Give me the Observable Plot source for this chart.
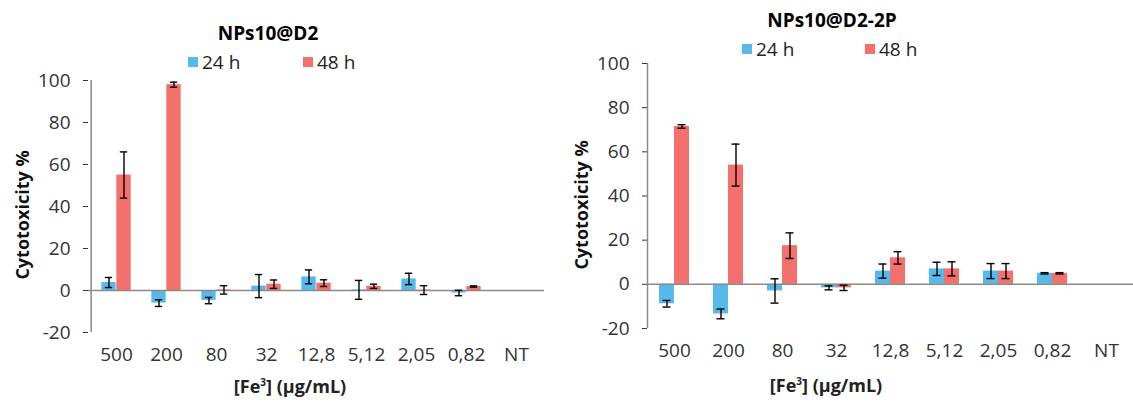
<!DOCTYPE html>
<html>
<head>
<meta charset="utf-8">
<script src="https://cdn.jsdelivr.net/npm/d3@7"></script>
<script src="https://cdn.jsdelivr.net/npm/@observablehq/plot@0.6"></script>
<style>
  html, body { margin: 0; padding: 0; background: #fff; }
  #root { position: relative; width: 1133px; height: 403px; overflow: hidden; font-family: "Open Sans", sans-serif; }
  .panel { position: absolute; top: 0; }
  .title { position: absolute; font-weight: bold; font-size: 19px; color: #000; white-space: nowrap; transform: translate(-50%, -50%); }
  .legend { position: absolute; font-size: 19px; color: #222; white-space: nowrap; transform: translateY(-50%); display: flex; align-items: center; }
  .legend .sw { display: inline-block; width: 10px; height: 10px; margin-right: 4px; }
  .ylab { position: absolute; font-weight: bold; font-size: 18px; color: #111; white-space: nowrap; transform: translate(-50%, -50%) rotate(-90deg); }
  .xlab { position: absolute; font-weight: bold; font-size: 18px; color: #222; white-space: nowrap; transform: translate(-50%, -50%); }
</style>
</head>
<body>
<div id="root"></div>
<script>
// ---- data ----
const categories = ["500", "200", "80", "32", "12,8", "5,12", "2,05", "0,82", "NT"];
const seriesNames = ["24 h", "48 h"];
const colors = ["#55b9e9", "#f4706c"];
const yTicks = [-20, 0, 20, 40, 60, 80, 100];

// NPs10@D2
const d2_24 = [3.8, -6.0, -4.8, 2.1, 6.5, 0.3, 5.5, -1.2];
const d2_24err = [2.4, 1.6, 1.5, 5.5, 3.3, 4.5, 2.7, 1.3];
const d2_48 = [55, 98, 0.3, 3.0, 3.5, 2.0, 0.2, 1.9];
const d2_48err = [11, 1.2, 2.0, 2.0, 1.6, 1.0, 2.1, 0.3];

// NPs10@D2-2P
const p2_24 = [-8.8, -13.4, -3.0, -1.6, 6.0, 7.0, 6.0, 5.0];
const p2_24err = [1.5, 2.2, 5.5, 0.9, 3.2, 3.0, 3.4, 0.3];
const p2_48 = [71.5, 54, 17.5, -1.6, 12, 7.0, 6.0, 5.0];
const p2_48err = [0.8, 9.5, 5.8, 1.2, 2.8, 3.2, 3.4, 0.3];

function rows(vals, errs) {
  return vals.map((v, i) => ({cat: categories[i], v, lo: v - errs[i], hi: v + errs[i]}));
}

function makeChart(cfg) {
  const {width, height, ml, mr, mt, mb, s24, s48} = cfg;
  const bw = (width - ml - mr) / categories.length;
  const barW = 15;
  const half = bw / 2;
  const cap = 4;
  const axisColor = "#8a8a8a";
  const errMarks = (data, off) => [
    Plot.ruleX(data, {x: "cat", y1: "lo", y2: "hi", dx: off, stroke: "#000", strokeWidth: 1.4}),
    Plot.tickY(data, {x: "cat", y: "lo", stroke: "#000", strokeWidth: 1.4,
      insetLeft: half + off - cap, insetRight: half - off - cap}),
    Plot.tickY(data, {x: "cat", y: "hi", stroke: "#000", strokeWidth: 1.4,
      insetLeft: half + off - cap, insetRight: half - off - cap})
  ];
  return Plot.plot({
    width, height,
    marginLeft: ml, marginRight: mr, marginTop: mt, marginBottom: mb,
    style: {fontFamily: "Open Sans, sans-serif", fontSize: "19px", color: "#333", background: "transparent"},
    x: {domain: categories, padding: 0, label: null, tickSize: 0, tickPadding: 15},
    y: {domain: [-20, 100], ticks: yTicks, label: null, tickSize: 5, tickPadding: 13, tickFormat: d => d < 0 ? "-" + Math.abs(d) : String(d)},
    marks: [
      Plot.ruleX([categories[0]], {dx: -half, y1: -20, y2: 100, stroke: axisColor, strokeWidth: 1.5}),
      Plot.barY(s24, {x: "cat", y: "v", fill: colors[0], insetLeft: half - barW, insetRight: half}),
      Plot.barY(s48, {x: "cat", y: "v", fill: colors[1], insetLeft: half, insetRight: half - barW}),
      Plot.ruleY([0], {stroke: axisColor, strokeWidth: 1.5}),
      ...errMarks(s24, -barW / 2),
      ...errMarks(s48, barW / 2)
    ]
  });
}

const root = document.getElementById("root");

function addPanel(left, cfg, txt) {
  const div = document.createElement("div");
  div.className = "panel";
  div.style.left = left + "px";
  div.appendChild(makeChart(cfg));
  root.appendChild(div);
  const t = document.createElement("div");
  t.className = "title"; t.textContent = txt.title;
  t.style.left = txt.tx + "px"; t.style.top = txt.ty + "px";
  root.appendChild(t);
  seriesNames.forEach((name, i) => {
    const l = document.createElement("div");
    l.className = "legend";
    l.style.left = txt.lx[i] + "px"; l.style.top = txt.ly + "px";
    const sw = document.createElement("span");
    sw.className = "sw"; sw.style.background = colors[i];
    l.appendChild(sw);
    l.appendChild(document.createTextNode(name));
    root.appendChild(l);
  });
  const y = document.createElement("div");
  y.className = "ylab"; y.textContent = "Cytotoxicity %";
  y.style.left = txt.yx + "px"; y.style.top = txt.yy + "px";
  root.appendChild(y);
  const x = document.createElement("div");
  x.className = "xlab"; x.innerHTML = "[Fe<sup style='font-size:10px'>3</sup>] (µg/mL)";
  x.style.left = txt.xx + "px"; x.style.top = txt.xy + "px";
  root.appendChild(x);
}

addPanel(0, {width: 566, height: 403, ml: 88, mr: 22, mt: 80, mb: 71,
  s24: rows(d2_24, d2_24err), s48: rows(d2_48, d2_48err)},
  {title: "NPs10@D2", tx: 268, ty: 33, lx: [188, 303], ly: 62, yx: 22, yy: 215, xx: 290, xy: 386});

addPanel(566, {width: 567, height: 403, ml: 81, mr: 0, mt: 63, mb: 75,
  s24: rows(p2_24, p2_24err), s48: rows(p2_48, p2_48err)},
  {title: "NPs10@D2-2P", tx: 832, ty: 20, lx: [742, 865], ly: 49, yx: 581, yy: 205, xx: 826, xy: 385});
</script>
</body>
</html>
